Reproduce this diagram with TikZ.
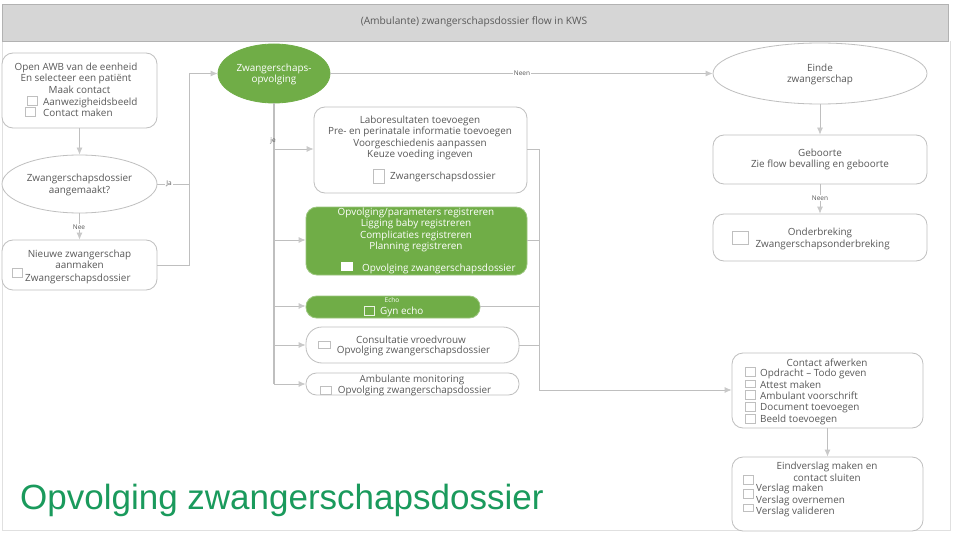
\documentclass[tikz,border=0pt]{standalone}
\usepackage{fontspec}
\setmainfont{Open Sans}
\newfontfamily\bigfont{Liberation Sans}
\usetikzlibrary{arrows.meta,shapes.geometric}
\definecolor{grn}{HTML}{70AD47}
\definecolor{lin}{HTML}{BFBFBF}
\definecolor{txt}{HTML}{595959}
\definecolor{hdr}{HTML}{D6D6D6}
\definecolor{bigc}{HTML}{1A9A5C}
\tikzset{
  box/.style={draw=lin,line width=.8pt,fill=white,rounded corners=11pt,minimum width=0pt},
  gbox/.style={fill=grn,draw=grn!70!white,line width=.8pt,rounded corners=11pt},
  oval/.style={shape=ellipse,draw=lin,line width=.8pt,fill=white,inner sep=0pt},
  lab/.style={font=\fontsize{9.9}{11.4}\selectfont,text=txt,align=center,inner sep=0pt},
  wlab/.style={lab,text=white},
  tiny/.style={font=\fontsize{6.5}{8}\selectfont,text=txt,inner sep=1pt,fill=white},
  doc/.style={draw=lin,line width=.7pt,fill=white,inner sep=0pt,minimum width=#1,minimum height=9pt},
  doc/.default=10pt,
  con/.style={draw=lin,line width=.8pt},
  arr/.style={con,-{Latex[length=7pt,width=6pt,color=lin!85!white]}},
}
\begin{document}
\begin{tikzpicture}[x=1pt,y=-1pt]
\useasboundingbox (0,0) rectangle (960,540);
\fill[white] (0,0) rectangle (960,540);
% page edges
\draw[black!12,line width=.5pt] (2,41) -- (2,530) -- (950,530) -- (950,41);
% header
\node[draw=black!30,fill=hdr,line width=.6pt,minimum width=946pt,minimum height=37pt,inner sep=0pt,anchor=north west] (hdr) at (2,4) {};
\node[lab,font=\fontsize{10.2}{12}\selectfont] (title) at (474,22) {(Ambulante) zwangerschapsdossier flow in KWS};
% left column
\node[box,minimum width=155pt,minimum height=75pt,inner sep=0pt] (a) at (79.5,90.5) {};
\node[oval,minimum width=155pt,minimum height=58pt] (b) at (79.5,184) {};
\node[box,minimum width=155pt,minimum height=50pt,inner sep=0pt] (c) at (79.5,265) {};
% top ovals
\node[oval,fill=grn,draw=grn,minimum width=112pt,minimum height=59pt] (d) at (274,73.5) {};
\node[oval,minimum width=214pt,minimum height=61pt] (e) at (820,73.5) {};
% right column
\node[box,minimum width=214pt,minimum height=49pt,inner sep=0pt] (f) at (820,159.5) {};
\node[box,minimum width=214pt,minimum height=47pt,inner sep=0pt] (g) at (820,237.5) {};
\node[box,minimum width=191pt,minimum height=75pt,inner sep=0pt] (m) at (827.5,390.5) {};
\node[box,minimum width=191pt,minimum height=74pt,inner sep=0pt] (n) at (827.5,494) {};
% middle column
\node[box,minimum width=213pt,minimum height=86pt,inner sep=0pt] (h) at (420.5,150) {};
\node[gbox,minimum width=221pt,minimum height=68pt,inner sep=0pt] (i) at (416.5,241) {};
\node[gbox,minimum width=174pt,minimum height=22pt,inner sep=0pt,rounded corners=10.5pt] (j) at (393,307) {};
\node[box,minimum width=213pt,minimum height=36pt,inner sep=0pt,rounded corners=16pt] (k) at (412.5,345) {};
\node[box,minimum width=213pt,minimum height=22pt,inner sep=0pt,rounded corners=10.5pt] (l) at (412.5,384) {};
% helper points
\coordinate (t1) at (189,184);
\coordinate (t2) at (189,73.5);
\coordinate (trunkend) at (274,384);
\coordinate (rt) at (539,390);
\coordinate (rtop) at (539,149);
% connectors left
\draw[arr] (a.south) -- (b.north);
\draw[arr] (b.south) -- (c.north);
\draw[con] (b.east) -- (t1);
\draw[arr] (c.east |- 0,265) -- (189,265) -- (t2) -- (d.west);
\draw[arr] (d.east) -- (e.west);
\draw[arr] (e.south) -- (f.north);
\draw[arr] (f.south) -- (g.north);
\draw[arr] (m.south) -- (n.north);
% trunk
\draw[lin,line width=1.5pt] (d.south) -- (trunkend);
\draw[arr] (274,149) -- (h.west |- 0,149);
\draw[arr] (274,240) -- (i.west |- 0,240);
\draw[arr] (274,306) -- (j.west |- 0,306);
\draw[arr] (274,345) -- (k.west |- 0,345);
\draw[arr] (274,384) -- (l.west |- 0,384);
% return trunk
\draw[con] (h.east |- rtop) -- (rtop) -- (rt);
\draw[con] (i.east |- 0,240) -- (539,240);
\draw[con] (j.east |- 0,306) -- (539,306);
\draw[con] (k.east |- 0,345) -- (539,345);
\draw[arr] (rt) -- (m.west |- rt);
% connector labels
\node[tiny] (lja) at (169,184) {Ja};
\node[tiny] (lnee) at (79,227) {Nee};
\node[tiny] (lneen) at (522,73) {Neen};
\node[tiny,fill=none] (lje) at (273,141) {je};
\node[tiny] (lneen2) at (820,198) {Neen};
% texts A
\node[lab] (a1) at (76,67.5) {Open AWB van de eenheid};
\node[lab] (a2) at (76,78.5) {En selecteer een patiënt};
\node[lab] (a3) at (79.5,90) {Maak contact};
\node[doc] (ia1) at (32,100.5) {};
\node[lab,anchor=west] (a4) at (43,102.5) {Aanwezigheidsbeeld};
\node[doc] (ia2) at (30,112) {};
\node[lab,anchor=west] (a5) at (43,112.5) {Contact maken};
% B
\node[lab,align=center] (b1) at (79.5,185) {Zwangerschapsdossier\\aangemaakt?};
% C
\node[lab] (c1) at (79.5,259.5) {Nieuwe zwangerschap\\aanmaken};
\node[doc] (ic) at (17,273) {};
\node[lab,anchor=west] (c2) at (25,278.5) {Zwangerschapsdossier};
% D
\node[wlab] (d1) at (274,74.5) {Zwangerschaps-\\opvolging};
% E F G
\node[lab] (e1) at (820,74.5) {Einde\\zwangerschap};
\node[lab] (f1) at (820,159.5) {Geboorte\\Zie flow bevalling en geboorte};
\node[lab] (g1) at (820,239) {Onderbreking\\\phantom{x}Zwangerschapsonderbreking};
\node[doc=16pt,minimum height=13pt] (ig) at (740,238) {};
% H
\node[lab] (h1) at (420,138) {Laboresultaten toevoegen\\Pre- en perinatale informatie toevoegen\\Voorgeschiedenis aanpassen\\Keuze voeding ingeven};
\node[doc=11pt,minimum height=14pt] (ih) at (379,176.5) {};
\node[lab,anchor=west] (h2) at (390,177) {Zwangerschapsdossier};
% I
\node[wlab] (i1) at (416,230) {Opvolging/parameters registreren\\Ligging baby registreren\\Complicaties registreren\\Planning registreren};
\node[fill=white,inner sep=0pt,minimum width=12pt,minimum height=9pt] (ii) at (347,266) {};
\node[wlab,anchor=west] (i2) at (362,269) {Opvolging zwangerschapsdossier};
% J
\node[tiny,fill=none,text=white] (j1) at (392,300) {Echo};
\node[doc,draw=white!85!grn,fill=grn,minimum height=9pt] (ij) at (369,311) {};
\node[wlab,anchor=west] (j2) at (380,312) {Gyn echo};
% K
\node[lab,font=\fontsize{9.9}{10.6}\selectfont] (k1) at (411,346) {Consultatie vroedvrouw\\\phantom{x}Opvolging zwangerschapsdossier};
\node[doc=12pt,minimum height=7pt] (ik) at (324,345) {};
% L
\node[lab] (l1) at (412,385.5) {Ambulante monitoring\\\phantom{x}Opvolging zwangerschapsdossier};
\node[doc=11pt,minimum height=8pt] (il) at (326,390) {};
% M
\node[lab] (m0) at (827,363) {Contact afwerken};
\node[doc] (im1) at (750,372) {};
\node[lab,anchor=west] (m1) at (760,373.5) {Opdracht – Todo geven};
\node[doc,minimum height=7pt] (im2) at (750,383.5) {};
\node[lab,anchor=west] (m2) at (760,384.5) {Attest maken};
\node[doc] (im3) at (750,395) {};
\node[lab,anchor=west] (m3) at (760,395.5) {Ambulant voorschrift};
\node[doc] (im4) at (750,407) {};
\node[lab,anchor=west] (m4) at (760,408) {Document toevoegen};
\node[doc] (im5) at (750,419) {};
\node[lab,anchor=west] (m5) at (760,420) {Beeld toevoegen};
% N
\node[lab] (n0) at (827,467) {Eindverslag maken en};
\node[lab] (n1) at (827,478) {contact sluiten};
\node[doc] (in1) at (748,480) {};
\node[lab,anchor=west] (n2) at (756,489) {Verslag maken};
\node[doc] (in2) at (748,494) {};
\node[lab,anchor=west] (n3) at (756,500.5) {Verslag overnemen};
\node[doc,minimum height=7pt] (in3) at (748,508) {};
\node[lab,anchor=west] (n4) at (756,511.5) {Verslag valideren};
% big title
\node[font=\bigfont\fontsize{35}{38}\selectfont,text=bigc,anchor=base west,inner sep=0pt] (big) at (20,509) {Opvolging zwangerschapsdossier};
\end{tikzpicture}
\end{document}
